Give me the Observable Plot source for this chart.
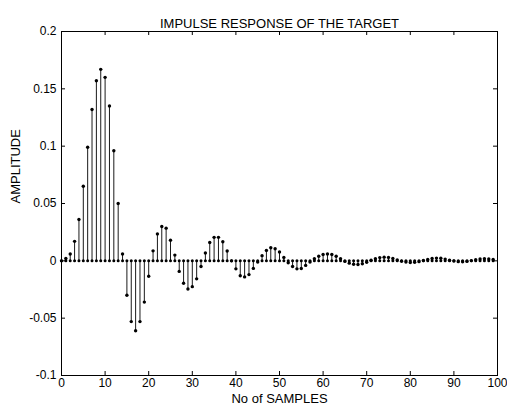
<!DOCTYPE html>
<html>
<head>
<meta charset="utf-8">
<script src="https://cdn.jsdelivr.net/npm/d3@7"></script>
<script src="https://cdn.jsdelivr.net/npm/@observablehq/plot@0.6"></script>
<style>
  html, body { margin: 0; padding: 0; background: #fff; }
  svg { display: block; }
</style>
</head>
<body>
<div id="chart"></div>
<script>
const titleText = "IMPULSE RESPONSE OF THE TARGET";
const xLabel = "No of SAMPLES";
const yLabel = "AMPLITUDE";
const xTicks = [0, 10, 20, 30, 40, 50, 60, 70, 80, 90, 100];
const yTicks = [-0.1, -0.05, 0, 0.05, 0.1, 0.15, 0.2];
const amplitude = [
  0.000, 0.002, 0.006, 0.017, 0.036, 0.065, 0.099, 0.132, 0.157, 0.167,
  0.160, 0.135, 0.096, 0.050, 0.006, -0.030, -0.053, -0.061, -0.053, -0.036,
  -0.0135, 0.0087, 0.0235, 0.030, 0.0285, 0.018, 0.005, -0.0092, -0.0195, -0.0245,
  -0.0225, -0.0157, -0.005, 0.0068, 0.016, 0.0205, 0.0205, 0.0167, 0.0086, 0.0000,
  -0.007, -0.013, -0.014, -0.012, -0.0066, -0.001, 0.0045, 0.0091, 0.0114, 0.0106,
  0.0077, 0.003, -0.0017, -0.005, -0.007, -0.0067, -0.004, -0.001, 0.0018, 0.004,
  0.0055, 0.006, 0.0055, 0.004, 0.0018, -0.0005, -0.002, -0.003, -0.0032, -0.0025,
  -0.0012, 0.0005, 0.0018, 0.0028, 0.0032, 0.003, 0.002, 0.0008, -0.0003, -0.001,
  -0.0014, -0.0013, -0.0007, 0.0003, 0.0012, 0.002, 0.0024, 0.0022, 0.0015, 0.0006,
  -0.0002, -0.0007, -0.0008, -0.0005, 0.0002, 0.001, 0.0016, 0.0018, 0.0016, 0.0011
];
const samples = amplitude.map((v, i) => i);
const data = amplitude.map((v, i) => ({n: samples[i], v}));

const font = "'Liberation Sans', Arial, Helvetica, sans-serif";
const W = 507, H = 409, mL = 61, mR = 10, mT = 31, mB = 34;
const frameW = W - mL - mR, frameH = H - mT - mB, tick = 4;

const chart = Plot.plot({
  width: W,
  height: H,
  marginLeft: mL,
  marginRight: mR,
  marginTop: mT,
  marginBottom: mB,
  style: {fontFamily: font, fontSize: "12px", color: "#000", background: "#fff"},
  x: {domain: [0, 100], ticks: xTicks},
  y: {domain: [-0.1, 0.2], ticks: yTicks},
  marks: [
    Plot.ruleX(data, {x: "n", y1: 0, y2: "v", stroke: "#1a1a1a", strokeWidth: 1}),
    Plot.dot(data, {x: "n", y: 0, r: 1.5, fill: "#000", stroke: "none"}),
    Plot.dot(data, {x: "n", y: "v", r: 1.7, fill: "#000", stroke: "none"}),
    // inward ticks on all four sides
    Plot.ruleX(xTicks, {x: d => d, insetTop: frameH - tick, stroke: "#000"}),
    Plot.ruleX(xTicks, {x: d => d, insetBottom: frameH - tick, stroke: "#000"}),
    Plot.ruleY(yTicks, {y: d => d, insetRight: frameW - tick, stroke: "#000"}),
    Plot.ruleY(yTicks, {y: d => d, insetLeft: frameW - tick, stroke: "#000"}),
    Plot.frame({stroke: "#000", strokeWidth: 1}),
    Plot.axisX(xTicks, {anchor: "bottom", tickSize: 0, tickPadding: 3, label: null, fontSize: 12, tickFormat: d => String(d)}),
    Plot.axisY(yTicks, {anchor: "left", tickSize: 0, tickPadding: 5, label: null, fontSize: 12, tickFormat: d => String(d)}),
    Plot.text([titleText], {frameAnchor: "top", dy: -13, fontSize: 13, fill: "#000"}),
    Plot.text([xLabel], {frameAnchor: "bottom", dy: 27, fontSize: 13, fill: "#000"}),
    Plot.text([yLabel], {frameAnchor: "left", dx: -46, rotate: -90, fontSize: 13, fill: "#000"})
  ]
});
document.getElementById("chart").appendChild(chart);
</script>
</body>
</html>
